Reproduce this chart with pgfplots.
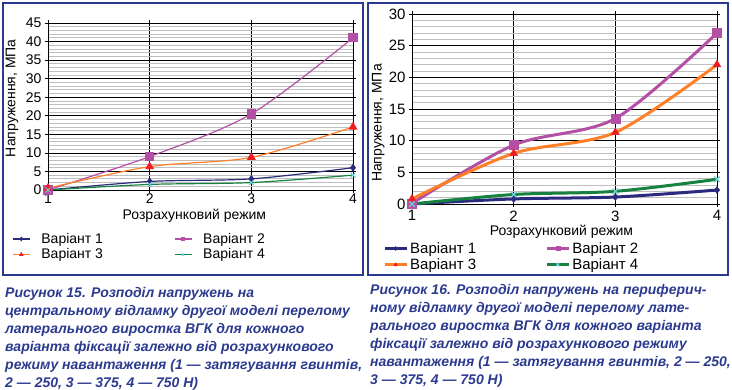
\documentclass[border=0pt]{standalone}
\usepackage{pgfplots}
\pgfplotsset{compat=1.18}
\usepackage{fontspec}
\setmainfont{Liberation Sans}
\definecolor{vnavy}{HTML}{2A2A7E}
\definecolor{vmag}{HTML}{B44FA6}
\definecolor{vorange}{HTML}{FF7F27}
\definecolor{vred}{HTML}{EE1D23}
\definecolor{vgreen}{HTML}{17823F}
\definecolor{vcyan}{HTML}{6FD0D8}
\definecolor{frameblue}{HTML}{2B3990}
\definecolor{capblue}{HTML}{2B3A8E}
\pgfplotsset{
 vstyle/.style={
  scale only axis,
  xmin=1,xmax=4, xtick={1,2,3,4},
  grid=both,
  major grid style={black, line width=0.6pt},
  minor grid style={gray!50, line width=0.8pt},
  minor y tick num=4,
  tick align=outside, major tick length=3pt, minor tick length=0pt,
  tick style={black, line width=0.6pt},
  axis line style={black, line width=0.6pt},
  /pgf/number format/assume math mode=true,
  clip=false,
  legend columns=2,
  legend cell align=left,
  legend style={draw=none, fill=none, inner sep=0pt, anchor=north west},
 }
}
\begin{document}
\begin{tikzpicture}[x=1pt,y=1pt]
\useasboundingbox (0,0) rectangle (732,390);
\draw[frameblue, line width=2pt] (3,387) rectangle (363,115);
\draw[frameblue, line width=2pt] (368,387) rectangle (728,115);
% left chart
\begin{axis}[vstyle, at={(48pt,200pt)}, anchor=south west, width=305pt, height=167pt,
  ymin=0, ymax=45, ytick={0,5,...,45},
  every tick label/.append style={font=\fontsize{14}{14}\selectfont},
  xticklabel style={yshift=3pt},
  xlabel={Розрахунковий режим}, ylabel={Напруження, МПа},
  label style={font=\fontsize{14}{14}\selectfont},
  xlabel style={at={(axis description cs:0.48,-0.155)}, anchor=center},
  ylabel style={at={(axis description cs:-0.118,0.55)}, anchor=center},
  legend style={at={(-0.118,-0.245)}, font=\fontsize{14}{16}\selectfont,
    /tikz/every odd column/.append style={column sep=9pt},
    /tikz/every even column/.append style={column sep=69pt}},
  legend image post style={mark size=1.5pt},
  legend image code/.code={\draw[mark repeat=2,mark phase=2,#1] plot coordinates {(0pt,0pt) (8.5pt,0pt) (17pt,0pt)};}]
\addplot[vnavy, line width=1.2pt, smooth, mark=diamond*, mark size=3pt, mark options={fill=vnavy}] coordinates {(1,0) (2,2.3) (3,3) (4,6)};
\addlegendentry{Варіант 1}
\addplot[vmag, line width=1.2pt, smooth, mark=square*, mark size=4pt, mark options={fill=vmag}] coordinates {(1,0) (2,9) (3,20.5) (4,41)};
\addlegendentry{Варіант 2}
\addplot[vorange, line width=1.2pt, smooth, mark=triangle*, mark size=4pt, mark options={fill=vred, draw=vred}] coordinates {(1,0.5) (2,6.3) (3,8.8) (4,17)};
\addlegendentry{Варіант 3}
\addplot[vgreen, line width=1.2pt, smooth, mark=x, mark size=3.5pt, mark options={draw=vcyan, line width=1pt}] coordinates {(1,0) (2,1.5) (3,2) (4,4)};
\addlegendentry{Варіант 4}
\end{axis}
% right chart
\begin{axis}[vstyle, at={(412pt,186pt)}, anchor=south west, width=305pt, height=190pt,
  ymin=0, ymax=30, ytick={0,5,...,30},
  every tick label/.append style={font=\fontsize{15}{15}\selectfont},
  xlabel={Розрахунковий режим}, ylabel={Напруження, МПа},
  label style={font=\fontsize{14}{14}\selectfont},
  xlabel style={at={(axis description cs:0.49,-0.147)}, anchor=center},
  ylabel style={at={(axis description cs:-0.111,0.426)}, anchor=center},
  legend style={at={(-0.095,-0.19)}, font=\fontsize{15}{18}\selectfont,
    /tikz/every even column/.append style={column sep=67pt}},
  legend image post style={mark size=2pt},
  legend image code/.code={\draw[mark repeat=2,mark phase=2,#1] plot coordinates {(0pt,0pt) (11pt,0pt) (22pt,0pt)};}]
\addplot[vnavy, line width=3pt, smooth, mark=diamond*, mark size=3.5pt, mark options={fill=vnavy, line width=0.5pt}] coordinates {(1,0) (2,0.8) (3,1.1) (4,2.2)};
\addlegendentry{Варіант 1}
\addplot[vmag, line width=3pt, smooth, mark=square*, mark size=4.5pt, mark options={fill=vmag, line width=0.5pt}] coordinates {(1,0.1) (2,9.3) (3,13.5) (4,27)};
\addlegendentry{Варіант 2}
\addplot[vorange, line width=3pt, smooth, mark=triangle*, mark size=4.5pt, mark options={fill=vred, draw=vred, line width=0.5pt}] coordinates {(1,0.8) (2,8) (3,11.3) (4,22)};
\addlegendentry{Варіант 3}
\addplot[vgreen, line width=3pt, smooth, mark=x, mark size=4pt, mark options={draw=vcyan, line width=1.2pt}] coordinates {(1,0) (2,1.5) (3,2) (4,3.9)};
\addlegendentry{Варіант 4}
\end{axis}
% captions
\node[anchor=north west, inner sep=0pt, align=left, text=capblue,
  font=\fontsize{14}{18}\selectfont\bfseries\itshape] at (5,103) {Рисунок 15. Розподіл напружень на\\
центральному відламку другої моделі перелому\\
латерального виростка ВГК для кожного\\
варіанта фіксації залежно від розрахункового\\
режиму навантаження (1 — затягування гвинтів,\\
2 — 250, 3 — 375, 4 — 750 Н)};
\node[anchor=north west, inner sep=0pt, align=left, text=capblue,
  font=\fontsize{14}{18}\selectfont\bfseries\itshape] at (370,106) {Рисунок 16. Розподіл напружень на периферич-\\
ному відламку другої моделі перелому лате-\\
рального виростка ВГК для кожного варіанта\\
фіксації залежно від розрахункового режиму\\
навантаження (1 — затягування гвинтів, 2 — 250,\\
3 — 375, 4 — 750 Н)};
\end{tikzpicture}
\end{document}
